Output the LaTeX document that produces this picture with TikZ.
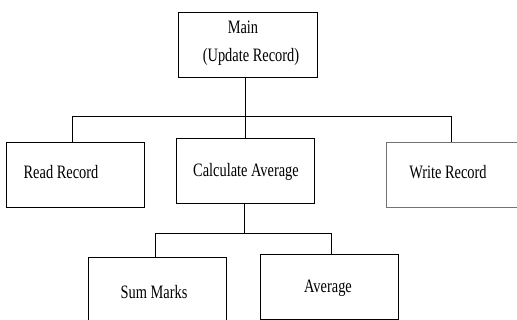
\documentclass[tikz,border=0pt]{standalone}
\usepackage{fontspec}
\setmainfont{Liberation Serif}
\begin{document}
\begin{tikzpicture}[x=0.75pt,y=-0.75pt,
  box/.style={draw=black,line width=0.6pt,rectangle,inner sep=0pt,
    minimum width=103.5pt,minimum height=48.75pt},
  graybox/.style={box,draw=black!55},
  txt/.style={inner sep=0pt,font=\fontsize{14.2pt}{17pt}\selectfont},
  link/.style={draw=black,line width=0.6pt}]
\useasboundingbox (0,0) rectangle (517,320);
\clip (0,0) rectangle (517,320);
% module boxes
\node[box] (main) at (247.5,44.5) [minimum width=104.25pt] {};
\node[box] (read) at (75.5,175) {};
\node[box] (calc) at (245.5,171) {};
\node[graybox] (write) at (455,175) {};
\node[box] (sum) at (157,290) {};
\node[box] (avg) at (329.5,287) {};
% module names (narrow Times-like lettering)
\newcommand{\nar}[1]{\scalebox{0.76}[1]{#1}}
\node[txt] (tmain) at (243,27) {\nar{Main}};
\node[txt] (tupd) at (251,57) {\nar{(Update Record)}};
\node[txt] (tread) at (61,172) {\nar{Read Record}};
\node[txt] (tcalc) at (246,172) {\nar{Calculate Average}};
\node[txt] (twrite) at (448,172) {\nar{Write Record}};
\node[txt] (tsum) at (154,292) {\nar{Sum Marks}};
\node[txt] (tavg) at (328,288) {\nar{Average}};
% structure chart connectors
\coordinate (bus) at (245,116);
\coordinate (bus2) at (244,233);
\draw[link] (main.south -| bus) -- (calc.north -| bus);
\draw[link] (read.north -| 72,0) -- (72,116) -- (451,116) -- (write.north -| 451,0);
\draw[link] (calc.south -| bus2) -- (bus2);
\draw[link] (sum.north -| 155,0) -- (155,233) -- (331,233) -- (avg.north -| 331,0);
\end{tikzpicture}
\end{document}
